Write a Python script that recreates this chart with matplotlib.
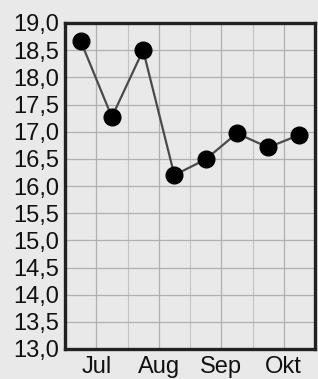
import matplotlib
matplotlib.use("Agg")
import matplotlib.pyplot as plt
from matplotlib.ticker import FuncFormatter, MultipleLocator

plt.rcParams["font.family"] = ["Liberation Sans", "DejaVu Sans"]

# half-month readings, two per month
values = [18.67, 17.27, 18.50, 16.20, 16.49, 16.97, 16.71, 16.94]
months = ["Jul", "Aug", "Sep", "Okt"]
month_pos = [0.5, 2.5, 4.5, 6.5]

BG = "#e9e9e9"

fig = plt.figure(figsize=(3.18, 3.79), dpi=100, facecolor=BG)
ax = fig.add_axes([65 / 318, 1 - 349 / 379, 250 / 318, 326 / 379])
ax.set_facecolor(BG)

x = list(range(len(values)))
ax.plot(x, values, color="#4a4a4a", linewidth=1.6, marker="o",
        markersize=12, markerfacecolor="black", markeredgecolor="black", zorder=3)

ax.set_xlim(-0.5, len(values) - 0.5)
ax.set_ylim(13.0, 19.0)

ax.yaxis.set_major_locator(MultipleLocator(0.5))
ax.yaxis.set_major_formatter(FuncFormatter(lambda v, p: f"{v:.1f}".replace(".", ",")))
ax.set_xticks(month_pos)
ax.set_xticklabels(months)
ax.set_xticks([1.5, 3.5, 5.5], minor=True)

ax.grid(which="major", color="#b0b0b0", linewidth=0.9)
ax.grid(which="minor", axis="x", color="#c4c4c4", linewidth=0.8)

ax.tick_params(which="both", length=0, labelsize=17, colors="#111111")
ax.tick_params(axis="y", pad=4)
ax.tick_params(axis="x", pad=5)

for s in ax.spines.values():
    s.set_linewidth(2.4)
    s.set_color("#222222")

fig.savefig("out.png", dpi=100, facecolor=BG)
